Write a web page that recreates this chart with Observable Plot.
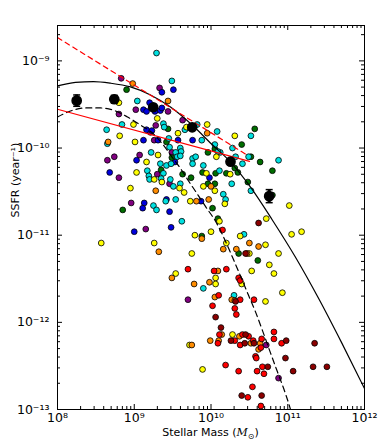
<!DOCTYPE html>
<html><head><meta charset="utf-8">
<script src="https://cdn.jsdelivr.net/npm/d3@7"></script>
<script src="https://cdn.jsdelivr.net/npm/@observablehq/plot@0.6"></script>
<style>body{margin:0;background:#fff}</style>
</head><body><div id="chart"></div>
<script>
// ---- data: [log10 stellar mass, log10 SSFR] per colour group ----
const purplePts = [[8.83,-9.20],[9.33,-9.31],[8.80,-9.61],[9.02,-9.56],[9.44,-9.58],[9.28,-9.74],[9.63,-9.68],[9.26,-9.91],[9.21,-9.82],[8.74,-10.10],[8.65,-10.14],[9.07,-10.08],[9.49,-10.05],[9.30,-10.30],[8.80,-10.34],[9.46,-10.41],[8.96,-10.63],[9.15,-10.93],[9.70,-11.74],[10.72,-12.26],[10.88,-12.64]];
const bluePts = [[9.36,-9.36],[9.51,-9.33],[9.20,-9.48],[9.12,-9.56],[9.16,-9.58],[9.27,-9.58],[9.34,-9.57],[9.36,-9.54],[9.16,-9.79],[9.76,-9.91],[9.98,-10.34],[9.87,-10.61],[9.12,-9.91],[9.31,-9.91],[9.23,-9.80],[9.57,-9.91],[9.03,-10.14],[9.53,-10.16],[8.68,-10.28],[9.42,-10.59],[9.13,-10.63],[9.11,-10.69],[9.46,-10.73],[9.00,-10.96],[9.48,-10.91]];
const greenPts = [[8.90,-9.33],[9.44,-9.78],[10.57,-9.78],[10.40,-9.96],[10.05,-10.01],[10.52,-10.10],[10.64,-10.16],[10.80,-10.26],[10.48,-10.39],[10.80,-10.54],[10.31,-10.23],[10.35,-10.28],[10.20,-10.29],[10.06,-10.29],[9.89,-10.28],[9.96,-10.41],[10.05,-10.41],[9.74,-10.34],[10.02,-10.69],[10.09,-10.81],[9.96,-10.05],[9.42,-9.93],[9.49,-10.11],[9.35,-10.25],[9.63,-10.30],[8.85,-10.71],[9.88,-11.01],[10.36,-11.21],[10.61,-11.29]];
const cyanPts = [[9.29,-8.91],[9.49,-9.23],[9.04,-9.46],[9.38,-9.72],[9.39,-9.76],[8.64,-9.79],[8.84,-9.73],[9.82,-9.73],[10.08,-9.81],[9.88,-9.91],[10.52,-9.86],[10.05,-9.96],[10.12,-10.05],[10.09,-10.04],[10.28,-10.00],[10.32,-10.10],[10.41,-10.18],[10.49,-10.10],[10.88,-10.14],[10.52,-10.49],[10.16,-10.53],[10.19,-10.59],[10.27,-10.41],[10.11,-10.26],[9.90,-10.20],[9.76,-10.12],[9.76,-10.18],[9.80,-10.10],[9.66,-9.79],[8.65,-9.95],[9.46,-9.99],[9.45,-9.89],[9.60,-10.00],[9.61,-10.04],[9.22,-10.05],[9.54,-10.05],[9.56,-10.10],[9.60,-10.09],[9.34,-10.18],[9.42,-10.20],[9.48,-10.18],[9.17,-10.26],[9.19,-10.32],[9.38,-10.29],[9.35,-10.35],[9.20,-10.36],[9.51,-10.44],[9.47,-10.36],[9.60,-10.41],[9.54,-10.59],[9.41,-10.61],[9.25,-10.66],[9.29,-10.71],[9.62,-10.84],[10.43,-10.99],[9.90,-11.61],[10.30,-11.69]];
const yellowPts = [[8.80,-9.48],[9.30,-9.66],[9.68,-9.76],[8.99,-9.73],[9.95,-9.73],[10.31,-9.86],[10.07,-10.10],[11.02,-10.66],[10.72,-10.81],[10.18,-10.64],[10.25,-10.30],[9.94,-10.29],[9.90,-10.44],[10.05,-10.49],[9.73,-10.61],[9.65,-10.51],[8.81,-9.86],[9.01,-9.93],[9.57,-9.83],[9.31,-10.08],[9.16,-10.16],[9.03,-10.28],[9.26,-10.36],[9.36,-10.39],[9.59,-10.46],[8.95,-10.46],[8.57,-11.09],[9.26,-11.09],[9.79,-11.00],[9.75,-11.21],[9.54,-11.44],[9.72,-12.26],[10.00,-10.96],[10.11,-10.84],[10.38,-11.01],[11.05,-10.99],[11.18,-10.96],[10.20,-11.09],[10.71,-11.11],[10.50,-11.21],[10.88,-11.21],[10.76,-11.34],[10.53,-11.41],[10.82,-11.44],[10.06,-11.49],[10.06,-11.56],[10.40,-11.56],[10.71,-11.76],[10.93,-11.66],[10.28,-12.14],[9.89,-12.54]];
const orangePts = [[8.98,-9.26],[9.44,-9.46],[9.95,-9.83],[10.00,-10.44],[9.81,-10.61],[9.97,-10.59],[8.66,-9.93],[9.28,-10.49],[9.32,-11.19],[9.49,-11.49],[9.78,-11.56],[9.75,-12.26],[9.88,-11.04],[10.16,-11.16],[10.33,-11.16],[10.50,-11.09],[10.62,-11.13],[10.47,-11.21],[10.09,-11.41],[9.98,-11.54],[10.05,-11.71],[10.27,-11.74],[10.31,-11.75],[10.14,-12.14],[9.99,-12.21],[10.10,-12.21],[10.37,-12.16],[10.52,-12.24],[10.64,-12.24],[10.62,-12.31]];
const redPts = [[9.70,-11.39],[10.15,-10.94],[10.04,-11.41],[10.20,-11.39],[10.36,-11.49],[10.38,-11.52],[10.10,-11.69],[10.38,-11.74],[10.56,-11.74],[10.02,-11.81],[10.31,-11.84],[10.33,-11.91],[10.11,-12.14],[10.09,-12.24],[10.31,-12.21],[10.41,-12.14],[10.49,-12.16],[10.38,-12.26],[10.55,-12.21],[10.66,-12.19],[10.65,-12.29],[10.82,-12.11],[10.82,-12.19],[10.92,-12.24],[10.58,-12.39],[10.59,-12.41],[10.19,-12.49],[10.67,-12.51],[10.36,-12.56],[10.60,-12.56],[10.69,-12.59],[10.54,-12.74],[10.48,-12.86],[10.65,-12.96]];
const darkredPts = [[10.62,-10.86],[10.45,-11.21],[10.32,-11.76],[10.06,-11.94],[10.13,-12.06],[10.26,-12.21],[10.45,-12.14],[10.44,-12.24],[10.56,-12.24],[10.98,-12.21],[11.35,-12.24],[10.97,-12.41],[10.74,-12.51],[11.07,-12.56],[11.33,-12.51],[11.51,-12.51],[10.40,-12.84],[10.66,-12.84]];

// binned means (black) with errors (dex)
const binMass = [8.25, 8.74, 9.247, 9.755, 10.254, 10.758];
const binSSFR = [-9.456, -9.44, -9.532, -9.762, -10.157, -10.552];
const binErr  = [0.065, 0.045, 0.03, 0.03, 0.035, 0.075];

// model curves [log M, log SSFR]
const blackSolid = [[8.000,-9.287],[8.235,-9.247],[8.469,-9.238],[8.691,-9.256],[8.951,-9.299],[9.212,-9.391],[9.472,-9.529],[9.755,-9.736],[10.007,-9.954],[10.254,-10.161],[10.515,-10.448],[10.801,-10.828],[11.101,-11.253],[11.401,-11.724],[11.700,-12.230],[12.000,-12.759]];
const blackDashed = [[8.000,-9.644],[8.169,-9.575],[8.365,-9.540],[8.560,-9.540],[8.756,-9.575],[8.912,-9.644],[9.081,-9.736],[9.238,-9.828],[9.368,-9.954],[9.498,-10.110],[9.603,-10.235],[9.694,-10.360],[9.824,-10.530],[9.928,-10.670],[10.072,-10.860],[10.189,-11.070],[10.293,-11.280],[10.397,-11.494],[10.489,-11.690],[10.580,-11.880],[10.671,-12.095],[10.775,-12.350],[10.879,-12.600],[10.971,-12.820],[11.036,-13.000],[11.062,-13.080]];
const redSolid = [[8.0,-9.555],[10.502,-10.153]];
const redDashed = [[8.0,-8.732],[10.491,-10.092]];

// axis ticks
const majorX = [1e8, 1e9, 1e10, 1e11, 1e12];
const majorY = [1e-13, 1e-12, 1e-11, 1e-10, 1e-9];
const mult = [2,3,4,5,6,7,8,9];

const W = 382, H = 445, mL = 57, mR = 18, mT = 25, mB = 36;
const pw = W - mL - mR, ph = H - mT - mB;
const yTop = 10 ** -8.594;
const minorX = majorX.slice(0, -1).flatMap(d => mult.map(k => k * d));
const minorY = majorY.flatMap(d => mult.map(k => k * d)).filter(v => v < yTop);

const groups = [
  ["#800080", purplePts], ["#0000dd", bluePts], ["#006d00", greenPts], ["#00e0e0", cyanPts],
  ["#ffff00", yellowPts], ["#ff8c00", orangePts], ["#ff0000", redPts], ["#8b0000", darkredPts]
];
const pts = groups.flatMap(([c, arr]) => arr.map(([m, s]) => ({m: 10 ** m, s: 10 ** s, c})));
const bins = binMass.map((m, i) => ({m: 10 ** m, s: 10 ** binSSFR[i], lo: 10 ** (binSSFR[i] - binErr[i]), hi: 10 ** (binSSFR[i] + binErr[i])}));
const toXY = arr => arr.map(([m, s]) => ({m: 10 ** m, s: 10 ** s}));

const sup = {"-":"⁻","0":"⁰","1":"¹","2":"²","3":"³","4":"⁴","5":"⁵","6":"⁶","7":"⁷","8":"⁸","9":"⁹"};
const fmt = d => "10" + String(Math.round(Math.log10(d))).replace(/./g, ch => sup[ch]);
const capSymbol = {draw(ctx, size) { const r = Math.sqrt(size / Math.PI); ctx.moveTo(-r, 0); ctx.lineTo(r, 0); }};

const plot = Plot.plot({
  width: W, height: H, marginLeft: mL, marginRight: mR, marginTop: mT, marginBottom: mB,
  x: {type: "log", domain: [1e8, 1e12]},
  y: {type: "log", domain: [1e-13, yTop]},
  color: {type: "identity"},
  style: {fontFamily: "'DejaVu Sans', sans-serif", fontSize: "11px", background: "white", color: "black"},
  marks: [
    Plot.dot(pts, {x: "m", y: "s", r: 2.9, fill: "c", stroke: "black", strokeWidth: 0.8}),
    Plot.line(toXY(blackSolid), {x: "m", y: "s", stroke: "black", strokeWidth: 1.2, curve: "monotone-x", clip: true}),
    Plot.line(toXY(blackDashed), {x: "m", y: "s", stroke: "black", strokeWidth: 1.2, strokeDasharray: "6,4", curve: "monotone-x", clip: true}),
    Plot.line(toXY(redSolid), {x: "m", y: "s", stroke: "red", strokeWidth: 1.2, clip: true}),
    Plot.line(toXY(redDashed), {x: "m", y: "s", stroke: "red", strokeWidth: 1.2, strokeDasharray: "5,4", clip: true}),
    Plot.ruleX(bins, {x: "m", y1: "lo", y2: "hi", stroke: "black", strokeWidth: 3}),
    Plot.dot(bins, {x: "m", y: "lo", r: 3.5, symbol: capSymbol, stroke: "black", strokeWidth: 1.5, fill: "none"}),
    Plot.dot(bins, {x: "m", y: "hi", r: 3.5, symbol: capSymbol, stroke: "black", strokeWidth: 1.5, fill: "none"}),
    Plot.dot(bins, {x: "m", y: "s", r: 4.6, fill: "black", stroke: "black"}),
    // inward ticks on all sides
    Plot.ruleX(majorX, {insetTop: ph - 5, stroke: "black"}),
    Plot.ruleX(majorX, {insetBottom: ph - 5, stroke: "black"}),
    Plot.ruleX(minorX, {insetTop: ph - 3, stroke: "black"}),
    Plot.ruleX(minorX, {insetBottom: ph - 3, stroke: "black"}),
    Plot.ruleY(majorY, {insetRight: pw - 5, stroke: "black"}),
    Plot.ruleY(majorY, {insetLeft: pw - 5, stroke: "black"}),
    Plot.ruleY(minorY, {insetRight: pw - 3, stroke: "black"}),
    Plot.ruleY(minorY, {insetLeft: pw - 3, stroke: "black"}),
    Plot.frame({stroke: "black", strokeWidth: 1}),
    Plot.axisX(majorX, {tickSize: 0, tickPadding: 4, tickFormat: fmt, fontSize: 12.5, label: null}),
    Plot.axisY(majorY, {tickSize: 0, tickPadding: 8, tickFormat: fmt, fontSize: 12.5, label: null}),
    Plot.text(["SSFR (year⁻¹)"], {frameAnchor: "left", dx: -42, rotate: -90, fontSize: 11, fill: "black"})
  ]
});

const svg = d3.select(plot);
const t = svg.append("text").attr("x", mL + pw / 2).attr("y", 436)
  .attr("text-anchor", "middle").attr("font-size", 11).attr("fill", "black")
  .attr("font-family", "'DejaVu Sans', sans-serif");
t.append("tspan").text("Stellar Mass (");
t.append("tspan").attr("font-style", "italic").attr("font-family", "'DejaVu Serif', serif").text("M");
t.append("tspan").attr("font-size", 8).attr("dy", 3).text("⊙");
t.append("tspan").attr("dy", -3).text(")");

document.getElementById("chart").appendChild(plot);
</script>
</body></html>
